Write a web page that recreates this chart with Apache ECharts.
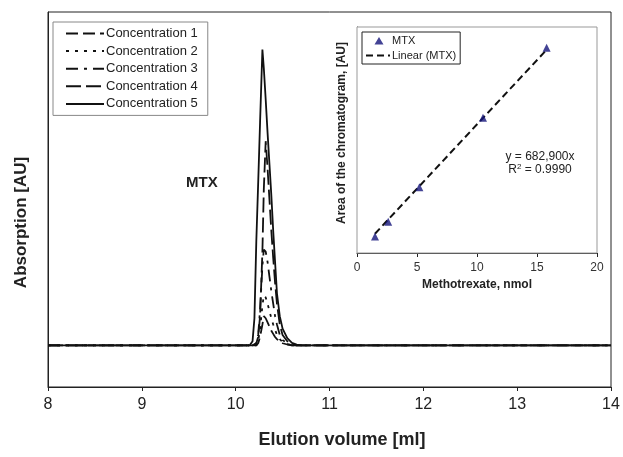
<!DOCTYPE html>
<html>
<head>
<meta charset="utf-8">
<script src="https://cdn.jsdelivr.net/npm/echarts@6/dist/echarts.min.js"></script>
<style>
html,body{margin:0;padding:0;background:#fff;}
#chart{width:623px;height:457px;}
</style>
</head>
<body>
<div id="chart"></div>
<script>
// ---- Main chromatogram data ----
const volumes = [8, 10.1, 10.15, 10.18, 10.2, 10.22, 10.24, 10.26, 10.285, 10.3, 10.32, 10.34, 10.36, 10.38, 10.4, 10.42, 10.44, 10.47, 10.5, 10.55, 10.6, 10.65, 10.7, 14];
const conc1 = [0, 0, 0, 0, 0, 0, 0.01, 0.04, 0.10, 0.14, 0.13, 0.11, 0.09, 0.07, 0.055, 0.04, 0.03, 0.018, 0.01, 0.004, 0, 0, 0, 0];
const conc2 = [0, 0, 0, 0, 0, 0, 0.02, 0.08, 0.19, 0.24, 0.23, 0.2, 0.165, 0.13, 0.1, 0.075, 0.05, 0.03, 0.015, 0.006, 0.002, 0, 0, 0];
const conc3 = [0, 0, 0, 0, 0, 0.01, 0.05, 0.17, 0.38, 0.46, 0.45, 0.40, 0.33, 0.26, 0.20, 0.14, 0.10, 0.05, 0.025, 0.01, 0, 0, 0, 0];
const conc4 = [0, 0, 0, 0, 0, 0.01, 0.04, 0.14, 0.45, 0.75, 0.98, 0.85, 0.70, 0.55, 0.42, 0.30, 0.20, 0.10, 0.05, 0.02, 0.005, 0, 0, 0];
const conc5 = [0, 0, 0, 0.02, 0.13, 0.50, 0.78, 1.07, 1.42, 1.33, 1.18, 1.02, 0.87, 0.72, 0.55, 0.40, 0.25, 0.14, 0.08, 0.035, 0.012, 0.003, 0, 0];
const seriesNames = ['Concentration 1', 'Concentration 2', 'Concentration 3', 'Concentration 4', 'Concentration 5'];
const mainXTicks = [8, 9, 10, 11, 12, 13, 14];

// ---- Inset calibration data ----
const mtxNmol = [1.5, 2.6, 5.2, 10.5, 15.8];
const mtxArea = [870000, 1660000, 3490000, 7180000, 10900000];
const linearNmol = [1.5, 15.8];
const linearArea = [1024000, 10790000];

const concData = [conc1, conc2, conc3, conc4, conc5];
const dashes = [[12, 5], [3, 6], [12, 6, 3, 6], [15, 5], 'solid'];

const pair = (xs, ys) => xs.map((x, i) => [x, ys[i]]);

const lineSeries = concData.map((vals, i) => ({
  name: seriesNames[i],
  type: 'line',
  xAxisIndex: 0, yAxisIndex: 0,
  data: pair(volumes, vals),
  symbol: 'none',
  smooth: false,
  lineStyle: { color: '#111', width: 1.8, type: dashes[i] },
  itemStyle: { color: '#111' },
  z: 3 + i
}));

const chart = echarts.init(document.getElementById('chart'), null, { renderer: 'canvas' });
const font = 'Liberation Sans, Arial, sans-serif';

chart.setOption({
  animation: false,
  backgroundColor: '#fff',
  textStyle: { fontFamily: font },
  grid: [
    { left: 48, right: 12, top: 12, bottom: 70, show: true, borderColor: '#222', borderWidth: 1, backgroundColor: 'transparent' },
    { left: 357, right: 26, top: 27, bottom: 204, show: true, borderColor: '#999', borderWidth: 1, backgroundColor: '#fff', z: 10 }
  ],
  legend: [
    {
      data: seriesNames,
      orient: 'vertical', left: 53, top: 22,
      itemWidth: 38, itemHeight: 14, itemGap: 4.6,
      padding: [5, 10, 5, 12],
      borderColor: '#888', borderWidth: 1, backgroundColor: '#fff',
      textStyle: { fontSize: 13, color: '#222', fontFamily: font, padding: [0, 0, 0, -3] },
      itemStyle: { opacity: 0 },
      selectedMode: false
    },
    {
      data: [
        { name: 'MTX', icon: 'path://M0,0 M24,10 M13,1.5 L17.5,9 L8.5,9 Z' },
        { name: 'Linear (MTX)', itemStyle: { opacity: 0 } }
      ],
      orient: 'vertical', left: 362, top: 32,
      itemWidth: 24, itemHeight: 10, itemGap: 4,
      padding: [3, 4, 3, 3],
      borderColor: '#222', borderWidth: 1, backgroundColor: '#fff',
      textStyle: { fontSize: 11, color: '#222', fontFamily: font, padding: [0, 0, 0, -3] },
      selectedMode: false,
      z: 20
    }
  ],
  xAxis: [
    {
      gridIndex: 0, type: 'value', min: 8, max: 14, interval: 1,
      axisLine: { onZero: false, lineStyle: { color: '#222', width: 1 } },
      axisTick: { length: 4, lineStyle: { color: '#222' } },
      axisLabel: { fontSize: 16, color: '#222', margin: 10, fontFamily: font,
        formatter: v => mainXTicks.includes(v) ? String(v) : '' },
      splitLine: { show: false },
      name: 'Elution volume [ml]', nameLocation: 'middle', nameGap: 44,
      nameTextStyle: { fontSize: 18, fontWeight: 'bold', color: '#222', fontFamily: font, padding: [0, 0, 0, 25] }
    },
    {
      gridIndex: 1, type: 'value', min: 0, max: 20, interval: 5,
      axisLine: { onZero: false, lineStyle: { color: '#222', width: 1 } },
      axisTick: { length: 4, lineStyle: { color: '#222' } },
      axisLabel: { fontSize: 12, color: '#333', margin: 9, fontFamily: font },
      splitLine: { show: false },
      name: 'Methotrexate, nmol', nameLocation: 'middle', nameGap: 26,
      nameTextStyle: { fontSize: 12, fontWeight: 'bold', color: '#222', fontFamily: font }
    }
  ],
  yAxis: [
    {
      gridIndex: 0, type: 'value', min: -0.2, max: 1.6,
      axisLine: { show: true, lineStyle: { color: '#222', width: 1 } },
      axisTick: { show: false }, axisLabel: { show: false }, splitLine: { show: false },
      name: 'Absorption [AU]', nameLocation: 'middle', nameGap: 18,
      nameTextStyle: { fontSize: 17, fontWeight: 'bold', color: '#222', fontFamily: font, padding: [0, 46, 0, 0] }
    },
    {
      gridIndex: 1, type: 'value', min: 0, max: 12000000,
      axisLine: { show: true, lineStyle: { color: '#222', width: 1 } },
      axisTick: { show: false }, axisLabel: { show: false }, splitLine: { show: false },
      name: 'Area of the chromatogram, [AU]', nameLocation: 'middle', nameGap: 9,
      nameTextStyle: { fontSize: 12, fontWeight: 'bold', color: '#222', fontFamily: font, padding: [0, 0, 0, 14] }
    }
  ],
  series: lineSeries.concat([
    {
      name: 'Linear (MTX)', type: 'line', xAxisIndex: 1, yAxisIndex: 1,
      data: pair(linearNmol, linearArea), symbol: 'none',
      lineStyle: { color: '#111', width: 2, type: [7, 4] }, itemStyle: { color: '#111' }, z: 11
    },
    {
      name: 'MTX', type: 'scatter', xAxisIndex: 1, yAxisIndex: 1,
      data: pair(mtxNmol, mtxArea), symbol: 'triangle', symbolSize: 8,
      itemStyle: { color: '#14147a' }, z: 12
    }
  ]),
  graphic: [
    { type: 'text', left: 186, top: 175, z: 30,
      style: { text: 'MTX', font: 'bold 15px ' + font, fill: '#222' } },
    { type: 'text', x: 540, y: 157, z: 30,
      style: { text: 'y = 682,900x', font: '12px ' + font, fill: '#222', textAlign: 'center', textVerticalAlign: 'middle' } },
    { type: 'text', x: 540, y: 170, z: 30,
      style: { text: 'R{s|2} = 0.9990', font: '12px ' + font, fill: '#222', textAlign: 'center', textVerticalAlign: 'middle',
        rich: { s: { fontSize: 8, verticalAlign: 'top', padding: [0, 0, 6, 0], fill: '#222' } } } }
  ]
});
</script>
</body>
</html>
